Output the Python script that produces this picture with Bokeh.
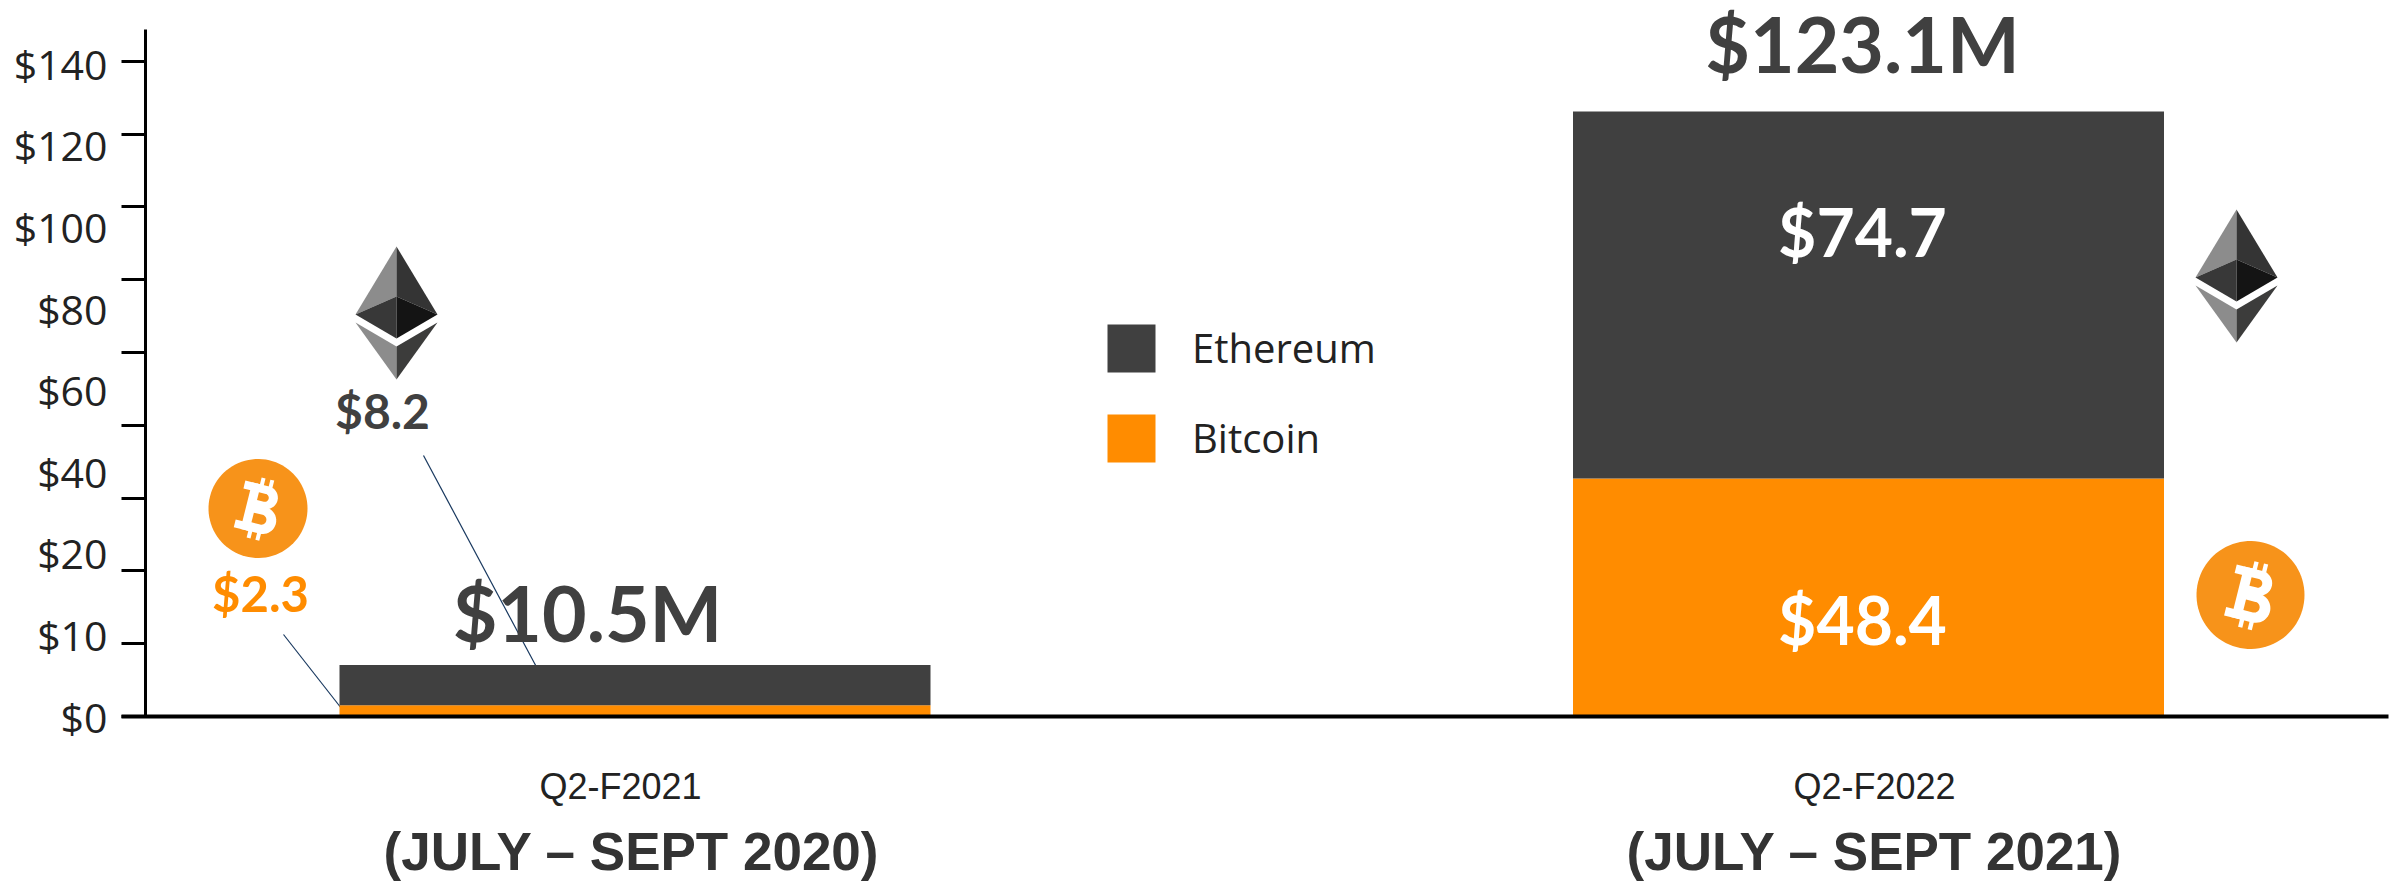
import numpy as np
from bokeh.core.properties import value
from bokeh.embed import file_html
from bokeh.models import (ColumnDataSource, FixedTicker, Legend, LegendItem,
                          LinearAxis, Range1d)
from bokeh.plotting import figure
from bokeh.resources import INLINE

# Crypto revenue per quarter, $ millions
quarters = ["Q2-F2021", "Q2-F2022"]
periods = ["(JULY \u2013 SEPT 2020)", "(JULY \u2013 SEPT 2021)"]
bitcoin = [2.3, 48.4]
ethereum = [8.2, 74.7]
y_labels = ["$0", "$10", "$20", "$40", "$60", "$80", "$100", "$120", "$140"]
tick_count = 10

DARK = "#404040"
ORANGE = "#FF8C00"
COIN = "#F7931A"
W, H = 2394, 882

# Layout of the canvas, in pixels
BASE_Y = 716          # value 0
PX_PER_M = 4.915      # pixels per $1M
BAR0_X, BAR1_X = 634.5, 1868.0
BAR_W = 591
AXIS_X = 145
Q0_X, Q1_X = 620, 1874


def px_x(px):
    return (np.asarray(px, dtype=float) - BAR0_X) / (BAR1_X - BAR0_X)


def px_y(py):
    return (BASE_Y - np.asarray(py, dtype=float)) / PX_PER_M


def span(origin, step, size):
    """Range that puts index 0 at `origin` with `step` pixels per index."""
    return Range1d((0 - origin) / step, (size - origin) / step)


p = figure(width=W, height=H, output_backend="svg", toolbar_location=None,
           x_axis_type=None, y_axis_type=None, min_border=0,
           x_range=Range1d(float(px_x(0)), float(px_x(W))),
           y_range=Range1d(float(px_y(H)), float(px_y(0))),
           outline_line_color=None, background_fill_color="white",
           border_fill_color="white")
p.grid.visible = False

# Leader lines from the small bar's callouts
p.segment(x0=px_x([423, 283]), y0=px_y([455, 634]),
          x1=px_x([540, 341]), y1=px_y([674, 708]),
          line_color="#17375E", line_width=1.2)

# Stacked bars
source = ColumnDataSource(dict(x=[0, 1], bitcoin=bitcoin, ethereum=ethereum))
btc_bar, eth_bar = p.vbar_stack(["bitcoin", "ethereum"], x="x", source=source,
                                width=BAR_W / (BAR1_X - BAR0_X),
                                color=[ORANGE, DARK], line_color=None)

# Separate index ranges for the tick marks and for the dollar labels
p.extra_y_ranges["tick_marks"] = Range1d(-(H - BASE_Y) / 72.8, BASE_Y / 72.8)
p.extra_y_ranges["dollar_labels"] = Range1d(-(H - BASE_Y) / 81.6, BASE_Y / 81.6)
p.extra_x_ranges["quarter_labels"] = span(Q0_X, Q1_X - Q0_X, W)

tick_axis = LinearAxis(y_range_name="tick_marks", fixed_location=float(px_x(AXIS_X)),
                       ticker=FixedTicker(ticks=list(range(tick_count))),
                       bounds=(0, (BASE_Y - 29) / 72.8),
                       major_label_text_font_size="0px", major_label_text_color=None,
                       major_tick_out=24, major_tick_in=0, minor_tick_line_color=None,
                       major_tick_line_color="black", major_tick_line_width=3,
                       axis_line_color="black", axis_line_width=3)
p.add_layout(tick_axis, "left")

label_axis = LinearAxis(y_range_name="dollar_labels", fixed_location=float(px_x(AXIS_X)),
                        ticker=FixedTicker(ticks=list(range(len(y_labels)))),
                        major_label_overrides={i: s for i, s in enumerate(y_labels)},
                        major_tick_in=0, major_tick_out=0,
                        major_tick_line_color=None, minor_tick_line_color=None,
                        axis_line_color=None, major_label_standoff=38,
                        major_label_text_font="Open Sans",
                        major_label_text_font_size="41px",
                        major_label_text_color="#222222")
p.add_layout(label_axis, "left")

x_axis = LinearAxis(x_range_name="quarter_labels", fixed_location=0,
                    ticker=FixedTicker(ticks=[0, 1]),
                    major_label_overrides={i: s for i, s in enumerate(quarters)},
                    bounds=((121 - Q0_X) / (Q1_X - Q0_X), (2388 - Q0_X) / (Q1_X - Q0_X)),
                    major_tick_in=0, major_tick_out=0,
                    major_tick_line_color=None, minor_tick_line_color=None,
                    axis_line_color="black", axis_line_width=4,
                    major_label_standoff=49,
                    major_label_text_font="Liberation Sans",
                    major_label_text_font_size="36px",
                    major_label_text_color="#222222")
p.add_layout(x_axis, "below")


def draw_text(text, cx, baseline_y, size, color, font="Lato"):
    # The SVG backend sets alphabetic text a fixed share of the size too low
    y = baseline_y - 0.43 * size
    p.text(x=[float(px_x(cx))], y=[float(px_y(y))], text=[text],
           text_font=value(font), text_font_style="bold", text_font_size=f"{size}px",
           text_color=color, text_align="center", text_baseline="alphabetic")


# Period captions beneath the quarter names
draw_text(periods[0], 631, 874, 53, "#333333", "Liberation Sans")
draw_text(periods[1], 1874, 874, 53, "#333333", "Liberation Sans")

# Totals and segment values
draw_text(f"${bitcoin[0] + ethereum[0]:.1f}M", 587, 645, 77, DARK)
draw_text(f"${bitcoin[1] + ethereum[1]:.1f}M", 1862, 76, 77, DARK)
draw_text(f"${ethereum[1]}", 1862, 259, 66, "white")
draw_text(f"${bitcoin[1]}", 1862, 647, 66, "white")
draw_text(f"${ethereum[0]}", 382, 431, 48, DARK)
draw_text(f"${bitcoin[0]}", 260, 614, 49, ORANGE)


def ether_icon(cx, top):
    """Ethereum diamond as flat-shaded facets."""
    half = 41
    facets = [
        ([0, -half, 0], [0, 68, 50], "#8C8C8C"),
        ([0, half, 0], [0, 68, 50], "#343434"),
        ([0, -half, 0], [50, 68, 92], "#383838"),
        ([0, half, 0], [50, 68, 92], "#141414"),
        ([-half, 0, 0], [76, 100, 133], "#8C8C8C"),
        ([half, 0, 0], [76, 100, 133], "#3C3C3B"),
    ]
    xs = [px_x(cx + np.array(dx, dtype=float)) for dx, _, _ in facets]
    ys = [px_y(top + np.array(dy, dtype=float)) for _, dy, _ in facets]
    p.patches(xs, ys, fill_color=[f[2] for f in facets], line_color=None)


def stadium(x0, x1, y0, y1):
    """Box with its right side rounded off."""
    r = (y1 - y0) / 2
    t = np.linspace(-np.pi / 2, np.pi / 2, 24)
    xs = np.r_[x0, x1 - r + r * np.cos(t), x0]
    ys = np.r_[y0, (y0 + y1) / 2 + r * np.sin(t), y1]
    return xs, ys


def box(x0, x1, y0, y1):
    return np.array([x0, x1, x1, x0], float), np.array([y0, y0, y1, y1], float)


def bitcoin_icon(cx, cy, dia):
    """Orange coin carrying the tilted B mark."""
    t = np.linspace(0, 2 * np.pi, 90)
    p.patch(px_x(cx + dia / 2 * np.cos(t)), px_y(cy + dia / 2 * np.sin(t)),
            fill_color=COIN, line_color=None)

    parts = [
        (stadium(-7, 17, -24, -1), "white"),
        (stadium(-7, 21, -3, 24), "white"),
        (box(-19, -3, -24, -16), "white"),
        (box(-19, -3, 16, 24), "white"),
        (box(-12, -3, -24, 24), "white"),
        (box(-4, 0, -31, -23), "white"),
        (box(5, 9, -31, -23), "white"),
        (box(-4, 0, 23, 31), "white"),
        (box(5, 9, 23, 31), "white"),
        (stadium(-3, 8, -16, -8), COIN),
        (stadium(-3, 11, 5, 15), COIN),
    ]
    scale = dia / 99
    th = np.radians(14)
    xs, ys, colors = [], [], []
    for (bx, by), color in parts:
        rx = (bx * np.cos(th) - by * np.sin(th)) * scale
        ry = (bx * np.sin(th) + by * np.cos(th)) * scale
        xs.append(px_x(cx + rx))
        ys.append(px_y(cy + ry))
        colors.append(color)
    p.patches(xs, ys, fill_color=colors, line_color=None)


ether_icon(396, 246)
ether_icon(2236, 209)
bitcoin_icon(257.5, 508, 99)
bitcoin_icon(2250, 594.5, 108)

legend = Legend(items=[LegendItem(label="Ethereum", renderers=[eth_bar]),
                       LegendItem(label="Bitcoin", renderers=[btc_bar])],
                location=(1101, 414.5), orientation="vertical",
                glyph_width=60, glyph_height=60, spacing=30, label_standoff=31,
                padding=0, margin=0, border_line_color=None,
                background_fill_color=None,
                label_text_font="Open Sans", label_text_font_size="40px",
                label_text_color="#222222")
p.add_layout(legend, "center")

open("out.html", "w").write(file_html(p, INLINE))
